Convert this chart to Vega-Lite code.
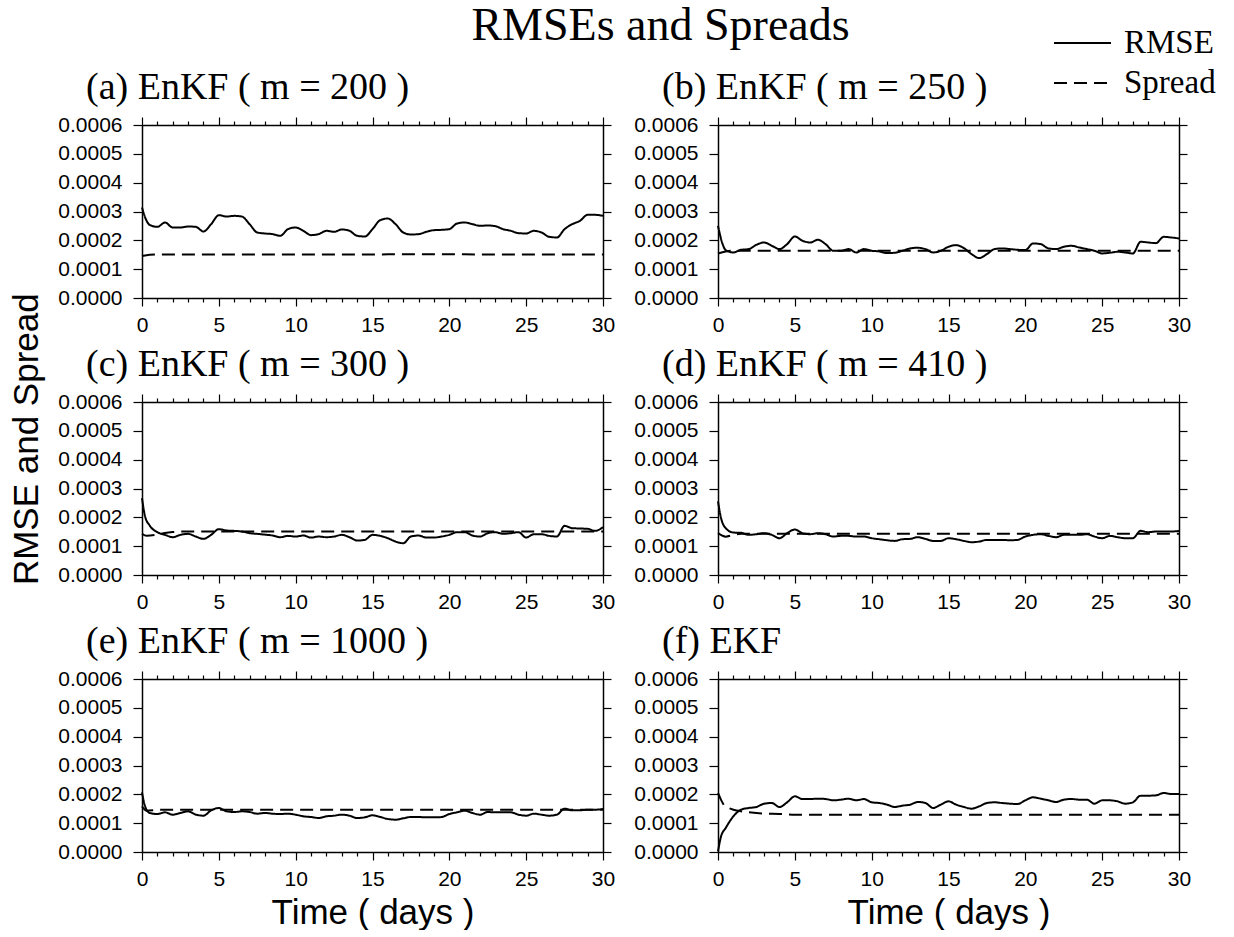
{
"$schema": "https://vega.github.io/schema/vega-lite/v6.json",
"padding": {"left": 9, "top": 3, "right": 0, "bottom": 0},
"background": "white",
"bounds": "flush",
"spacing": {"row": 104, "column": 115},
"columns": 2,
"title": {"text": "RMSEs and Spreads", "font": "Liberation Serif", "fontSize": 46, "fontWeight": "normal", "color": "black", "anchor": "middle", "frame": "group", "baseline": "alphabetic", "offset": 10, "dx": 518.5, "dy": 72},
"datasets": {
"a": [
{"t":0,"v":0.0003137,"s":"RMSE"},{"t":0.3,"v":0.0002676,"s":"RMSE"},{"t":0.5,"v":0.0002537,"s":"RMSE"},{"t":1,"v":0.0002468,"s":"RMSE"},{"t":1.5,"v":0.0002618,"s":"RMSE"},{"t":2,"v":0.0002445,"s":"RMSE"},{"t":2.5,"v":0.0002445,"s":"RMSE"},{"t":3,"v":0.000248,"s":"RMSE"},{"t":3.5,"v":0.0002468,"s":"RMSE"},{"t":4,"v":0.0002307,"s":"RMSE"},{"t":4.5,"v":0.0002561,"s":"RMSE"},{"t":5,"v":0.0002872,"s":"RMSE"},{"t":5.5,"v":0.0002826,"s":"RMSE"},{"t":6,"v":0.0002849,"s":"RMSE"},{"t":6.5,"v":0.0002826,"s":"RMSE"},{"t":7,"v":0.0002561,"s":"RMSE"},{"t":7.5,"v":0.0002272,"s":"RMSE"},{"t":8,"v":0.0002238,"s":"RMSE"},{"t":8.5,"v":0.0002215,"s":"RMSE"},{"t":9,"v":0.0002157,"s":"RMSE"},{"t":9.5,"v":0.0002388,"s":"RMSE"},{"t":10,"v":0.0002445,"s":"RMSE"},{"t":10.5,"v":0.000233,"s":"RMSE"},{"t":11,"v":0.000218,"s":"RMSE"},{"t":11.5,"v":0.0002215,"s":"RMSE"},{"t":12,"v":0.000233,"s":"RMSE"},{"t":12.5,"v":0.0002295,"s":"RMSE"},{"t":13,"v":0.0002376,"s":"RMSE"},{"t":13.5,"v":0.000233,"s":"RMSE"},{"t":14,"v":0.0002157,"s":"RMSE"},{"t":14.5,"v":0.0002134,"s":"RMSE"},{"t":15,"v":0.0002388,"s":"RMSE"},{"t":15.5,"v":0.0002699,"s":"RMSE"},{"t":16,"v":0.0002757,"s":"RMSE"},{"t":16.5,"v":0.0002561,"s":"RMSE"},{"t":17,"v":0.0002272,"s":"RMSE"},{"t":17.5,"v":0.0002203,"s":"RMSE"},{"t":18,"v":0.0002215,"s":"RMSE"},{"t":18.5,"v":0.0002295,"s":"RMSE"},{"t":19,"v":0.0002353,"s":"RMSE"},{"t":19.5,"v":0.0002364,"s":"RMSE"},{"t":20,"v":0.0002388,"s":"RMSE"},{"t":20.5,"v":0.0002584,"s":"RMSE"},{"t":21,"v":0.0002618,"s":"RMSE"},{"t":21.5,"v":0.0002561,"s":"RMSE"},{"t":22,"v":0.0002503,"s":"RMSE"},{"t":22.5,"v":0.0002514,"s":"RMSE"},{"t":23,"v":0.0002491,"s":"RMSE"},{"t":23.5,"v":0.0002388,"s":"RMSE"},{"t":24,"v":0.000233,"s":"RMSE"},{"t":24.5,"v":0.0002249,"s":"RMSE"},{"t":25,"v":0.0002238,"s":"RMSE"},{"t":25.5,"v":0.000233,"s":"RMSE"},{"t":26,"v":0.0002272,"s":"RMSE"},{"t":26.5,"v":0.0002122,"s":"RMSE"},{"t":27,"v":0.0002099,"s":"RMSE"},{"t":27.5,"v":0.0002388,"s":"RMSE"},{"t":28,"v":0.0002561,"s":"RMSE"},{"t":28.5,"v":0.0002676,"s":"RMSE"},{"t":29,"v":0.0002884,"s":"RMSE"},{"t":29.5,"v":0.0002884,"s":"RMSE"},{"t":30,"v":0.0002849,"s":"RMSE"},
{"t":0,"v":0.000146,"s":"Spread"},{"t":0.5,"v":0.00015,"s":"Spread"},{"t":1,"v":0.000151,"s":"Spread"},{"t":5,"v":0.000151,"s":"Spread"},{"t":10,"v":0.000151,"s":"Spread"},{"t":15,"v":0.000151,"s":"Spread"},{"t":17,"v":0.000152,"s":"Spread"},{"t":20,"v":0.000152,"s":"Spread"},{"t":22,"v":0.000151,"s":"Spread"},{"t":25,"v":0.000151,"s":"Spread"},{"t":30,"v":0.000151,"s":"Spread"}
],
"b": [
{"t":0,"v":0.0002503,"s":"RMSE"},{"t":0.3,"v":0.0001869,"s":"RMSE"},{"t":0.5,"v":0.0001661,"s":"RMSE"},{"t":1,"v":0.000158,"s":"RMSE"},{"t":1.5,"v":0.0001672,"s":"RMSE"},{"t":2,"v":0.0001696,"s":"RMSE"},{"t":2.5,"v":0.0001845,"s":"RMSE"},{"t":3,"v":0.0001926,"s":"RMSE"},{"t":3.5,"v":0.0001811,"s":"RMSE"},{"t":4,"v":0.0001696,"s":"RMSE"},{"t":4.5,"v":0.0001869,"s":"RMSE"},{"t":5,"v":0.0002134,"s":"RMSE"},{"t":5.5,"v":0.0001984,"s":"RMSE"},{"t":6,"v":0.0001926,"s":"RMSE"},{"t":6.5,"v":0.0002018,"s":"RMSE"},{"t":7,"v":0.0001869,"s":"RMSE"},{"t":7.5,"v":0.0001638,"s":"RMSE"},{"t":8,"v":0.0001638,"s":"RMSE"},{"t":8.5,"v":0.0001696,"s":"RMSE"},{"t":9,"v":0.000158,"s":"RMSE"},{"t":9.5,"v":0.0001696,"s":"RMSE"},{"t":10,"v":0.0001638,"s":"RMSE"},{"t":10.5,"v":0.0001615,"s":"RMSE"},{"t":11,"v":0.0001557,"s":"RMSE"},{"t":11.5,"v":0.0001569,"s":"RMSE"},{"t":12,"v":0.0001638,"s":"RMSE"},{"t":12.5,"v":0.0001719,"s":"RMSE"},{"t":13,"v":0.0001742,"s":"RMSE"},{"t":13.5,"v":0.0001696,"s":"RMSE"},{"t":14,"v":0.000158,"s":"RMSE"},{"t":14.5,"v":0.0001638,"s":"RMSE"},{"t":15,"v":0.0001776,"s":"RMSE"},{"t":15.5,"v":0.0001834,"s":"RMSE"},{"t":16,"v":0.000173,"s":"RMSE"},{"t":16.5,"v":0.0001522,"s":"RMSE"},{"t":17,"v":0.0001384,"s":"RMSE"},{"t":17.5,"v":0.0001522,"s":"RMSE"},{"t":18,"v":0.0001696,"s":"RMSE"},{"t":18.5,"v":0.0001719,"s":"RMSE"},{"t":19,"v":0.0001696,"s":"RMSE"},{"t":19.5,"v":0.0001672,"s":"RMSE"},{"t":20,"v":0.0001661,"s":"RMSE"},{"t":20.5,"v":0.0001892,"s":"RMSE"},{"t":21,"v":0.0001869,"s":"RMSE"},{"t":21.5,"v":0.0001719,"s":"RMSE"},{"t":22,"v":0.0001696,"s":"RMSE"},{"t":22.5,"v":0.0001776,"s":"RMSE"},{"t":23,"v":0.0001811,"s":"RMSE"},{"t":23.5,"v":0.0001753,"s":"RMSE"},{"t":24,"v":0.0001696,"s":"RMSE"},{"t":24.5,"v":0.0001638,"s":"RMSE"},{"t":25,"v":0.0001546,"s":"RMSE"},{"t":25.5,"v":0.0001569,"s":"RMSE"},{"t":26,"v":0.0001603,"s":"RMSE"},{"t":26.5,"v":0.000158,"s":"RMSE"},{"t":27,"v":0.0001546,"s":"RMSE"},{"t":27.5,"v":0.0001949,"s":"RMSE"},{"t":28,"v":0.0001926,"s":"RMSE"},{"t":28.5,"v":0.0001903,"s":"RMSE"},{"t":29,"v":0.0002122,"s":"RMSE"},{"t":29.5,"v":0.0002099,"s":"RMSE"},{"t":30,"v":0.0002065,"s":"RMSE"},
{"t":0,"v":0.0001546,"s":"Spread"},{"t":0.5,"v":0.0001615,"s":"Spread"},{"t":1,"v":0.0001638,"s":"Spread"},{"t":5,"v":0.0001638,"s":"Spread"},{"t":10,"v":0.0001638,"s":"Spread"},{"t":15,"v":0.0001638,"s":"Spread"},{"t":20,"v":0.0001638,"s":"Spread"},{"t":25,"v":0.0001638,"s":"Spread"},{"t":30,"v":0.0001638,"s":"Spread"}
],
"c": [
{"t":0,"v":0.0002668,"s":"RMSE"},{"t":0.2,"v":0.000203,"s":"RMSE"},{"t":0.5,"v":0.0001717,"s":"RMSE"},{"t":1,"v":0.0001485,"s":"RMSE"},{"t":1.5,"v":0.0001392,"s":"RMSE"},{"t":2,"v":0.0001311,"s":"RMSE"},{"t":2.5,"v":0.0001392,"s":"RMSE"},{"t":3,"v":0.0001427,"s":"RMSE"},{"t":3.5,"v":0.0001334,"s":"RMSE"},{"t":4,"v":0.0001253,"s":"RMSE"},{"t":4.5,"v":0.0001392,"s":"RMSE"},{"t":5,"v":0.0001589,"s":"RMSE"},{"t":5.5,"v":0.0001543,"s":"RMSE"},{"t":6,"v":0.000153,"s":"RMSE"},{"t":6.5,"v":0.0001508,"s":"RMSE"},{"t":7,"v":0.000145,"s":"RMSE"},{"t":7.5,"v":0.0001427,"s":"RMSE"},{"t":8,"v":0.00014,"s":"RMSE"},{"t":8.5,"v":0.0001369,"s":"RMSE"},{"t":9,"v":0.0001311,"s":"RMSE"},{"t":9.5,"v":0.0001357,"s":"RMSE"},{"t":10,"v":0.0001334,"s":"RMSE"},{"t":10.5,"v":0.0001369,"s":"RMSE"},{"t":11,"v":0.0001299,"s":"RMSE"},{"t":11.5,"v":0.0001334,"s":"RMSE"},{"t":12,"v":0.0001311,"s":"RMSE"},{"t":12.5,"v":0.0001334,"s":"RMSE"},{"t":13,"v":0.0001392,"s":"RMSE"},{"t":13.5,"v":0.0001311,"s":"RMSE"},{"t":14,"v":0.0001195,"s":"RMSE"},{"t":14.5,"v":0.0001218,"s":"RMSE"},{"t":15,"v":0.0001392,"s":"RMSE"},{"t":15.5,"v":0.0001357,"s":"RMSE"},{"t":16,"v":0.0001276,"s":"RMSE"},{"t":16.5,"v":0.000116,"s":"RMSE"},{"t":17,"v":0.0001102,"s":"RMSE"},{"t":17.5,"v":0.0001334,"s":"RMSE"},{"t":18,"v":0.0001369,"s":"RMSE"},{"t":18.5,"v":0.0001299,"s":"RMSE"},{"t":19,"v":0.0001299,"s":"RMSE"},{"t":19.5,"v":0.0001334,"s":"RMSE"},{"t":20,"v":0.0001392,"s":"RMSE"},{"t":20.5,"v":0.0001485,"s":"RMSE"},{"t":21,"v":0.0001485,"s":"RMSE"},{"t":21.5,"v":0.0001369,"s":"RMSE"},{"t":22,"v":0.0001334,"s":"RMSE"},{"t":22.5,"v":0.000145,"s":"RMSE"},{"t":23,"v":0.0001485,"s":"RMSE"},{"t":23.5,"v":0.0001427,"s":"RMSE"},{"t":24,"v":0.000145,"s":"RMSE"},{"t":24.5,"v":0.0001485,"s":"RMSE"},{"t":25,"v":0.0001299,"s":"RMSE"},{"t":25.5,"v":0.0001415,"s":"RMSE"},{"t":26,"v":0.0001415,"s":"RMSE"},{"t":26.5,"v":0.0001357,"s":"RMSE"},{"t":27,"v":0.0001334,"s":"RMSE"},{"t":27.5,"v":0.0001705,"s":"RMSE"},{"t":28,"v":0.0001624,"s":"RMSE"},{"t":28.5,"v":0.0001613,"s":"RMSE"},{"t":29,"v":0.0001601,"s":"RMSE"},{"t":29.5,"v":0.0001531,"s":"RMSE"},{"t":30,"v":0.0001659,"s":"RMSE"},
{"t":0,"v":0.000143,"s":"Spread"},{"t":0.3,"v":0.000136,"s":"Spread"},{"t":1,"v":0.00014,"s":"Spread"},{"t":1.5,"v":0.000146,"s":"Spread"},{"t":2,"v":0.000149,"s":"Spread"},{"t":3,"v":0.000151,"s":"Spread"},{"t":10,"v":0.000151,"s":"Spread"},{"t":20,"v":0.000151,"s":"Spread"},{"t":30,"v":0.000151,"s":"Spread"}
],
"d": [
{"t":0,"v":0.0002552,"s":"RMSE"},{"t":0.2,"v":0.0001972,"s":"RMSE"},{"t":0.5,"v":0.0001624,"s":"RMSE"},{"t":1,"v":0.0001473,"s":"RMSE"},{"t":1.5,"v":0.0001462,"s":"RMSE"},{"t":2,"v":0.0001392,"s":"RMSE"},{"t":2.5,"v":0.0001415,"s":"RMSE"},{"t":3,"v":0.000145,"s":"RMSE"},{"t":3.5,"v":0.0001392,"s":"RMSE"},{"t":4,"v":0.0001276,"s":"RMSE"},{"t":4.5,"v":0.000145,"s":"RMSE"},{"t":5,"v":0.0001578,"s":"RMSE"},{"t":5.5,"v":0.000145,"s":"RMSE"},{"t":6,"v":0.0001415,"s":"RMSE"},{"t":6.5,"v":0.000145,"s":"RMSE"},{"t":7,"v":0.0001415,"s":"RMSE"},{"t":7.5,"v":0.0001334,"s":"RMSE"},{"t":8,"v":0.0001357,"s":"RMSE"},{"t":8.5,"v":0.0001357,"s":"RMSE"},{"t":9,"v":0.0001334,"s":"RMSE"},{"t":9.5,"v":0.0001334,"s":"RMSE"},{"t":10,"v":0.0001276,"s":"RMSE"},{"t":10.5,"v":0.0001241,"s":"RMSE"},{"t":11,"v":0.0001206,"s":"RMSE"},{"t":11.5,"v":0.0001183,"s":"RMSE"},{"t":12,"v":0.0001241,"s":"RMSE"},{"t":12.5,"v":0.0001253,"s":"RMSE"},{"t":13,"v":0.0001311,"s":"RMSE"},{"t":13.5,"v":0.0001253,"s":"RMSE"},{"t":14,"v":0.0001183,"s":"RMSE"},{"t":14.5,"v":0.0001183,"s":"RMSE"},{"t":15,"v":0.0001276,"s":"RMSE"},{"t":15.5,"v":0.0001241,"s":"RMSE"},{"t":16,"v":0.0001183,"s":"RMSE"},{"t":16.5,"v":0.0001137,"s":"RMSE"},{"t":17,"v":0.000116,"s":"RMSE"},{"t":17.5,"v":0.0001218,"s":"RMSE"},{"t":18,"v":0.0001218,"s":"RMSE"},{"t":18.5,"v":0.0001218,"s":"RMSE"},{"t":19,"v":0.0001206,"s":"RMSE"},{"t":19.5,"v":0.0001218,"s":"RMSE"},{"t":20,"v":0.0001334,"s":"RMSE"},{"t":20.5,"v":0.0001392,"s":"RMSE"},{"t":21,"v":0.0001415,"s":"RMSE"},{"t":21.5,"v":0.0001357,"s":"RMSE"},{"t":22,"v":0.0001311,"s":"RMSE"},{"t":22.5,"v":0.0001392,"s":"RMSE"},{"t":23,"v":0.0001392,"s":"RMSE"},{"t":23.5,"v":0.0001392,"s":"RMSE"},{"t":24,"v":0.0001415,"s":"RMSE"},{"t":24.5,"v":0.0001334,"s":"RMSE"},{"t":25,"v":0.0001276,"s":"RMSE"},{"t":25.5,"v":0.0001357,"s":"RMSE"},{"t":26,"v":0.0001311,"s":"RMSE"},{"t":26.5,"v":0.0001276,"s":"RMSE"},{"t":27,"v":0.0001276,"s":"RMSE"},{"t":27.5,"v":0.0001531,"s":"RMSE"},{"t":28,"v":0.0001485,"s":"RMSE"},{"t":28.5,"v":0.0001508,"s":"RMSE"},{"t":29,"v":0.0001508,"s":"RMSE"},{"t":29.5,"v":0.0001508,"s":"RMSE"},{"t":30,"v":0.0001531,"s":"RMSE"},
{"t":0,"v":0.000145,"s":"Spread"},{"t":0.5,"v":0.000133,"s":"Spread"},{"t":1,"v":0.000139,"s":"Spread"},{"t":1.5,"v":0.000143,"s":"Spread"},{"t":5,"v":0.000143,"s":"Spread"},{"t":10,"v":0.000143,"s":"Spread"},{"t":20,"v":0.000143,"s":"Spread"},{"t":30,"v":0.000143,"s":"Spread"}
],
"e": [
{"t":0,"v":0.0002069,"s":"RMSE"},{"t":0.2,"v":0.0001584,"s":"RMSE"},{"t":0.5,"v":0.0001353,"s":"RMSE"},{"t":1,"v":0.0001318,"s":"RMSE"},{"t":1.5,"v":0.0001376,"s":"RMSE"},{"t":2,"v":0.0001295,"s":"RMSE"},{"t":2.5,"v":0.0001353,"s":"RMSE"},{"t":3,"v":0.000141,"s":"RMSE"},{"t":3.5,"v":0.0001295,"s":"RMSE"},{"t":4,"v":0.000126,"s":"RMSE"},{"t":4.5,"v":0.0001445,"s":"RMSE"},{"t":5,"v":0.0001526,"s":"RMSE"},{"t":5.5,"v":0.000141,"s":"RMSE"},{"t":6,"v":0.0001387,"s":"RMSE"},{"t":6.5,"v":0.000141,"s":"RMSE"},{"t":7,"v":0.0001387,"s":"RMSE"},{"t":7.5,"v":0.0001329,"s":"RMSE"},{"t":8,"v":0.0001353,"s":"RMSE"},{"t":8.5,"v":0.0001329,"s":"RMSE"},{"t":9,"v":0.0001318,"s":"RMSE"},{"t":9.5,"v":0.0001329,"s":"RMSE"},{"t":10,"v":0.0001295,"s":"RMSE"},{"t":10.5,"v":0.0001237,"s":"RMSE"},{"t":11,"v":0.0001214,"s":"RMSE"},{"t":11.5,"v":0.0001179,"s":"RMSE"},{"t":12,"v":0.0001237,"s":"RMSE"},{"t":12.5,"v":0.000126,"s":"RMSE"},{"t":13,"v":0.0001295,"s":"RMSE"},{"t":13.5,"v":0.000126,"s":"RMSE"},{"t":14,"v":0.0001179,"s":"RMSE"},{"t":14.5,"v":0.0001202,"s":"RMSE"},{"t":15,"v":0.0001272,"s":"RMSE"},{"t":15.5,"v":0.0001214,"s":"RMSE"},{"t":16,"v":0.0001145,"s":"RMSE"},{"t":16.5,"v":0.0001121,"s":"RMSE"},{"t":17,"v":0.0001168,"s":"RMSE"},{"t":17.5,"v":0.0001214,"s":"RMSE"},{"t":18,"v":0.0001214,"s":"RMSE"},{"t":18.5,"v":0.0001202,"s":"RMSE"},{"t":19,"v":0.0001202,"s":"RMSE"},{"t":19.5,"v":0.0001214,"s":"RMSE"},{"t":20,"v":0.0001318,"s":"RMSE"},{"t":20.5,"v":0.0001376,"s":"RMSE"},{"t":21,"v":0.0001434,"s":"RMSE"},{"t":21.5,"v":0.0001353,"s":"RMSE"},{"t":22,"v":0.0001295,"s":"RMSE"},{"t":22.5,"v":0.0001387,"s":"RMSE"},{"t":23,"v":0.0001376,"s":"RMSE"},{"t":23.5,"v":0.0001376,"s":"RMSE"},{"t":24,"v":0.0001376,"s":"RMSE"},{"t":24.5,"v":0.0001295,"s":"RMSE"},{"t":25,"v":0.000126,"s":"RMSE"},{"t":25.5,"v":0.0001329,"s":"RMSE"},{"t":26,"v":0.0001295,"s":"RMSE"},{"t":26.5,"v":0.000126,"s":"RMSE"},{"t":27,"v":0.0001295,"s":"RMSE"},{"t":27.5,"v":0.0001503,"s":"RMSE"},{"t":28,"v":0.0001445,"s":"RMSE"},{"t":28.5,"v":0.0001445,"s":"RMSE"},{"t":29,"v":0.0001468,"s":"RMSE"},{"t":29.5,"v":0.0001468,"s":"RMSE"},{"t":30,"v":0.0001491,"s":"RMSE"},
{"t":0,"v":0.000158,"s":"Spread"},{"t":0.3,"v":0.000143,"s":"Spread"},{"t":1,"v":0.000146,"s":"Spread"},{"t":2,"v":0.0001468,"s":"Spread"},{"t":10,"v":0.0001468,"s":"Spread"},{"t":20,"v":0.0001468,"s":"Spread"},{"t":30,"v":0.0001468,"s":"Spread"}
],
"f": [
{"t":0,"v":0.0000023,"s":"RMSE"},{"t":0.2,"v":0.0000543,"s":"RMSE"},{"t":0.5,"v":0.0000832,"s":"RMSE"},{"t":1,"v":0.0001237,"s":"RMSE"},{"t":1.5,"v":0.0001468,"s":"RMSE"},{"t":2,"v":0.0001526,"s":"RMSE"},{"t":2.5,"v":0.0001561,"s":"RMSE"},{"t":3,"v":0.0001676,"s":"RMSE"},{"t":3.5,"v":0.0001699,"s":"RMSE"},{"t":4,"v":0.0001561,"s":"RMSE"},{"t":4.5,"v":0.0001723,"s":"RMSE"},{"t":5,"v":0.0001931,"s":"RMSE"},{"t":5.5,"v":0.0001838,"s":"RMSE"},{"t":6,"v":0.0001838,"s":"RMSE"},{"t":6.5,"v":0.000185,"s":"RMSE"},{"t":7,"v":0.0001838,"s":"RMSE"},{"t":7.5,"v":0.0001792,"s":"RMSE"},{"t":8,"v":0.0001815,"s":"RMSE"},{"t":8.5,"v":0.000185,"s":"RMSE"},{"t":9,"v":0.0001792,"s":"RMSE"},{"t":9.5,"v":0.0001838,"s":"RMSE"},{"t":10,"v":0.0001723,"s":"RMSE"},{"t":10.5,"v":0.0001699,"s":"RMSE"},{"t":11,"v":0.0001642,"s":"RMSE"},{"t":11.5,"v":0.0001561,"s":"RMSE"},{"t":12,"v":0.0001607,"s":"RMSE"},{"t":12.5,"v":0.0001642,"s":"RMSE"},{"t":13,"v":0.0001734,"s":"RMSE"},{"t":13.5,"v":0.0001699,"s":"RMSE"},{"t":14,"v":0.0001526,"s":"RMSE"},{"t":14.5,"v":0.0001642,"s":"RMSE"},{"t":15,"v":0.0001757,"s":"RMSE"},{"t":15.5,"v":0.0001642,"s":"RMSE"},{"t":16,"v":0.0001561,"s":"RMSE"},{"t":16.5,"v":0.0001503,"s":"RMSE"},{"t":17,"v":0.0001584,"s":"RMSE"},{"t":17.5,"v":0.0001699,"s":"RMSE"},{"t":18,"v":0.0001723,"s":"RMSE"},{"t":18.5,"v":0.0001699,"s":"RMSE"},{"t":19,"v":0.0001676,"s":"RMSE"},{"t":19.5,"v":0.0001665,"s":"RMSE"},{"t":20,"v":0.0001792,"s":"RMSE"},{"t":20.5,"v":0.0001896,"s":"RMSE"},{"t":21,"v":0.000185,"s":"RMSE"},{"t":21.5,"v":0.0001792,"s":"RMSE"},{"t":22,"v":0.0001734,"s":"RMSE"},{"t":22.5,"v":0.0001815,"s":"RMSE"},{"t":23,"v":0.0001838,"s":"RMSE"},{"t":23.5,"v":0.0001815,"s":"RMSE"},{"t":24,"v":0.0001815,"s":"RMSE"},{"t":24.5,"v":0.0001676,"s":"RMSE"},{"t":25,"v":0.0001792,"s":"RMSE"},{"t":25.5,"v":0.0001792,"s":"RMSE"},{"t":26,"v":0.0001757,"s":"RMSE"},{"t":26.5,"v":0.0001676,"s":"RMSE"},{"t":27,"v":0.0001723,"s":"RMSE"},{"t":27.5,"v":0.0001954,"s":"RMSE"},{"t":28,"v":0.0001954,"s":"RMSE"},{"t":28.5,"v":0.0001965,"s":"RMSE"},{"t":29,"v":0.0002046,"s":"RMSE"},{"t":29.5,"v":0.0002012,"s":"RMSE"},{"t":30,"v":0.0002012,"s":"RMSE"},
{"t":0,"v":0.0002046,"s":"Spread"},{"t":0.2,"v":0.0001809,"s":"Spread"},{"t":0.4,"v":0.0001618,"s":"Spread"},{"t":0.7,"v":0.0001526,"s":"Spread"},{"t":1,"v":0.0001468,"s":"Spread"},{"t":1.5,"v":0.000141,"s":"Spread"},{"t":2,"v":0.0001376,"s":"Spread"},{"t":3,"v":0.0001329,"s":"Spread"},{"t":4,"v":0.0001318,"s":"Spread"},{"t":5,"v":0.0001295,"s":"Spread"},{"t":10,"v":0.0001295,"s":"Spread"},{"t":20,"v":0.0001295,"s":"Spread"},{"t":30,"v":0.0001295,"s":"Spread"}
]
},
"concat": [
{"width": 461, "height": 173, "data": {"name": "a"},
 "title": {"text": "(a) EnKF ( m = 200 )"},
 "resolve": {"axis": {"x": "independent", "y": "independent"}},
 "layer": [
  {"mark": {"type": "line", "interpolate": "monotone", "color": "black", "strokeWidth": 2},
   "encoding": {
    "x": {"field": "t", "type": "quantitative", "scale": {"domain": [0, 30], "nice": false, "zero": false}, "axis": {"orient": "bottom", "values": [0,5,10,15,20,25,30], "format": "d", "title": null}},
    "y": {"field": "v", "type": "quantitative", "scale": {"domain": [0, 0.0006], "nice": false}, "axis": {"orient": "left", "values": [0,0.0001,0.0002,0.0003,0.0004,0.0005,0.0006], "format": ".4f", "title": "RMSE and Spread", "titleX": -105, "titleY": 313.7, "titleBaseline": "alphabetic", "titleAlign": "center", "titleAngle": 270}},
    "strokeDash": {"field": "s", "type": "nominal", "scale": {"domain": ["RMSE", "Spread"], "range": [[1, 0], [13, 7]]}, "title": null}}},
  {"mark": {"type": "point", "opacity": 0},
   "encoding": {
    "x": {"field": "t", "type": "quantitative", "axis": {"orient": "top", "values": [0,5,10,15,20,25,30], "labels": false, "title": null}},
    "y": {"field": "v", "type": "quantitative", "axis": {"orient": "right", "values": [0,0.0001,0.0002,0.0003,0.0004,0.0005,0.0006], "labels": false, "title": null}}}},
  {"mark": {"type": "point", "opacity": 0},
   "encoding": {
    "x": {"field": "t", "type": "quantitative", "axis": {"orient": "bottom", "values": [1,2,3,4,6,7,8,9,11,12,13,14,16,17,18,19,21,22,23,24,26,27,28,29], "labels": false, "domain": false, "tickSize": 4, "title": null}},
    "y": {"field": "v", "type": "quantitative", "axis": null}}},
  {"mark": {"type": "point", "opacity": 0},
   "encoding": {
    "x": {"field": "t", "type": "quantitative", "axis": {"orient": "top", "values": [1,2,3,4,6,7,8,9,11,12,13,14,16,17,18,19,21,22,23,24,26,27,28,29], "labels": false, "domain": false, "tickSize": 4, "title": null}},
    "y": {"field": "v", "type": "quantitative", "axis": null}}}
 ]},
{"width": 461, "height": 173, "data": {"name": "b"},
 "title": {"text": "(b) EnKF ( m = 250 )"},
 "resolve": {"axis": {"x": "independent", "y": "independent"}},
 "layer": [
  {"mark": {"type": "line", "interpolate": "monotone", "color": "black", "strokeWidth": 2},
   "encoding": {
    "x": {"field": "t", "type": "quantitative", "scale": {"domain": [0, 30], "nice": false, "zero": false}, "axis": {"orient": "bottom", "values": [0,5,10,15,20,25,30], "format": "d", "title": null}},
    "y": {"field": "v", "type": "quantitative", "scale": {"domain": [0, 0.0006], "nice": false}, "axis": {"orient": "left", "values": [0,0.0001,0.0002,0.0003,0.0004,0.0005,0.0006], "format": ".4f", "title": null}},
    "strokeDash": {"field": "s", "type": "nominal", "scale": {"domain": ["RMSE", "Spread"], "range": [[1, 0], [13, 7]]}, "title": null}}},
  {"mark": {"type": "point", "opacity": 0},
   "encoding": {
    "x": {"field": "t", "type": "quantitative", "axis": {"orient": "top", "values": [0,5,10,15,20,25,30], "labels": false, "title": null}},
    "y": {"field": "v", "type": "quantitative", "axis": {"orient": "right", "values": [0,0.0001,0.0002,0.0003,0.0004,0.0005,0.0006], "labels": false, "title": null}}}},
  {"mark": {"type": "point", "opacity": 0},
   "encoding": {
    "x": {"field": "t", "type": "quantitative", "axis": {"orient": "bottom", "values": [1,2,3,4,6,7,8,9,11,12,13,14,16,17,18,19,21,22,23,24,26,27,28,29], "labels": false, "domain": false, "tickSize": 4, "title": null}},
    "y": {"field": "v", "type": "quantitative", "axis": null}}},
  {"mark": {"type": "point", "opacity": 0},
   "encoding": {
    "x": {"field": "t", "type": "quantitative", "axis": {"orient": "top", "values": [1,2,3,4,6,7,8,9,11,12,13,14,16,17,18,19,21,22,23,24,26,27,28,29], "labels": false, "domain": false, "tickSize": 4, "title": null}},
    "y": {"field": "v", "type": "quantitative", "axis": null}}}
 ]},
{"width": 461, "height": 173, "data": {"name": "c"},
 "title": {"text": "(c) EnKF ( m = 300 )"},
 "resolve": {"axis": {"x": "independent", "y": "independent"}},
 "layer": [
  {"mark": {"type": "line", "interpolate": "monotone", "color": "black", "strokeWidth": 2},
   "encoding": {
    "x": {"field": "t", "type": "quantitative", "scale": {"domain": [0, 30], "nice": false, "zero": false}, "axis": {"orient": "bottom", "values": [0,5,10,15,20,25,30], "format": "d", "title": null}},
    "y": {"field": "v", "type": "quantitative", "scale": {"domain": [0, 0.0006], "nice": false}, "axis": {"orient": "left", "values": [0,0.0001,0.0002,0.0003,0.0004,0.0005,0.0006], "format": ".4f", "title": null}},
    "strokeDash": {"field": "s", "type": "nominal", "scale": {"domain": ["RMSE", "Spread"], "range": [[1, 0], [13, 7]]}, "title": null}}},
  {"mark": {"type": "point", "opacity": 0},
   "encoding": {
    "x": {"field": "t", "type": "quantitative", "axis": {"orient": "top", "values": [0,5,10,15,20,25,30], "labels": false, "title": null}},
    "y": {"field": "v", "type": "quantitative", "axis": {"orient": "right", "values": [0,0.0001,0.0002,0.0003,0.0004,0.0005,0.0006], "labels": false, "title": null}}}},
  {"mark": {"type": "point", "opacity": 0},
   "encoding": {
    "x": {"field": "t", "type": "quantitative", "axis": {"orient": "bottom", "values": [1,2,3,4,6,7,8,9,11,12,13,14,16,17,18,19,21,22,23,24,26,27,28,29], "labels": false, "domain": false, "tickSize": 4, "title": null}},
    "y": {"field": "v", "type": "quantitative", "axis": null}}},
  {"mark": {"type": "point", "opacity": 0},
   "encoding": {
    "x": {"field": "t", "type": "quantitative", "axis": {"orient": "top", "values": [1,2,3,4,6,7,8,9,11,12,13,14,16,17,18,19,21,22,23,24,26,27,28,29], "labels": false, "domain": false, "tickSize": 4, "title": null}},
    "y": {"field": "v", "type": "quantitative", "axis": null}}}
 ]},
{"width": 461, "height": 173, "data": {"name": "d"},
 "title": {"text": "(d) EnKF ( m = 410 )"},
 "resolve": {"axis": {"x": "independent", "y": "independent"}},
 "layer": [
  {"mark": {"type": "line", "interpolate": "monotone", "color": "black", "strokeWidth": 2},
   "encoding": {
    "x": {"field": "t", "type": "quantitative", "scale": {"domain": [0, 30], "nice": false, "zero": false}, "axis": {"orient": "bottom", "values": [0,5,10,15,20,25,30], "format": "d", "title": null}},
    "y": {"field": "v", "type": "quantitative", "scale": {"domain": [0, 0.0006], "nice": false}, "axis": {"orient": "left", "values": [0,0.0001,0.0002,0.0003,0.0004,0.0005,0.0006], "format": ".4f", "title": null}},
    "strokeDash": {"field": "s", "type": "nominal", "scale": {"domain": ["RMSE", "Spread"], "range": [[1, 0], [13, 7]]}, "title": null}}},
  {"mark": {"type": "point", "opacity": 0},
   "encoding": {
    "x": {"field": "t", "type": "quantitative", "axis": {"orient": "top", "values": [0,5,10,15,20,25,30], "labels": false, "title": null}},
    "y": {"field": "v", "type": "quantitative", "axis": {"orient": "right", "values": [0,0.0001,0.0002,0.0003,0.0004,0.0005,0.0006], "labels": false, "title": null}}}},
  {"mark": {"type": "point", "opacity": 0},
   "encoding": {
    "x": {"field": "t", "type": "quantitative", "axis": {"orient": "bottom", "values": [1,2,3,4,6,7,8,9,11,12,13,14,16,17,18,19,21,22,23,24,26,27,28,29], "labels": false, "domain": false, "tickSize": 4, "title": null}},
    "y": {"field": "v", "type": "quantitative", "axis": null}}},
  {"mark": {"type": "point", "opacity": 0},
   "encoding": {
    "x": {"field": "t", "type": "quantitative", "axis": {"orient": "top", "values": [1,2,3,4,6,7,8,9,11,12,13,14,16,17,18,19,21,22,23,24,26,27,28,29], "labels": false, "domain": false, "tickSize": 4, "title": null}},
    "y": {"field": "v", "type": "quantitative", "axis": null}}}
 ]},
{"width": 461, "height": 173, "data": {"name": "e"},
 "title": {"text": "(e) EnKF ( m = 1000 )"},
 "resolve": {"axis": {"x": "independent", "y": "independent"}},
 "layer": [
  {"mark": {"type": "line", "interpolate": "monotone", "color": "black", "strokeWidth": 2},
   "encoding": {
    "x": {"field": "t", "type": "quantitative", "scale": {"domain": [0, 30], "nice": false, "zero": false}, "axis": {"orient": "bottom", "values": [0,5,10,15,20,25,30], "format": "d", "title": "Time ( days )", "titleY": 71, "titleBaseline": "alphabetic"}},
    "y": {"field": "v", "type": "quantitative", "scale": {"domain": [0, 0.0006], "nice": false}, "axis": {"orient": "left", "values": [0,0.0001,0.0002,0.0003,0.0004,0.0005,0.0006], "format": ".4f", "title": null}},
    "strokeDash": {"field": "s", "type": "nominal", "scale": {"domain": ["RMSE", "Spread"], "range": [[1, 0], [13, 7]]}, "title": null}}},
  {"mark": {"type": "point", "opacity": 0},
   "encoding": {
    "x": {"field": "t", "type": "quantitative", "axis": {"orient": "top", "values": [0,5,10,15,20,25,30], "labels": false, "title": null}},
    "y": {"field": "v", "type": "quantitative", "axis": {"orient": "right", "values": [0,0.0001,0.0002,0.0003,0.0004,0.0005,0.0006], "labels": false, "title": null}}}},
  {"mark": {"type": "point", "opacity": 0},
   "encoding": {
    "x": {"field": "t", "type": "quantitative", "axis": {"orient": "bottom", "values": [1,2,3,4,6,7,8,9,11,12,13,14,16,17,18,19,21,22,23,24,26,27,28,29], "labels": false, "domain": false, "tickSize": 4, "title": null}},
    "y": {"field": "v", "type": "quantitative", "axis": null}}},
  {"mark": {"type": "point", "opacity": 0},
   "encoding": {
    "x": {"field": "t", "type": "quantitative", "axis": {"orient": "top", "values": [1,2,3,4,6,7,8,9,11,12,13,14,16,17,18,19,21,22,23,24,26,27,28,29], "labels": false, "domain": false, "tickSize": 4, "title": null}},
    "y": {"field": "v", "type": "quantitative", "axis": null}}}
 ]},
{"width": 461, "height": 173, "data": {"name": "f"},
 "title": {"text": "(f) EKF"},
 "resolve": {"axis": {"x": "independent", "y": "independent"}},
 "layer": [
  {"mark": {"type": "line", "interpolate": "monotone", "color": "black", "strokeWidth": 2},
   "encoding": {
    "x": {"field": "t", "type": "quantitative", "scale": {"domain": [0, 30], "nice": false, "zero": false}, "axis": {"orient": "bottom", "values": [0,5,10,15,20,25,30], "format": "d", "title": "Time ( days )", "titleY": 71, "titleBaseline": "alphabetic"}},
    "y": {"field": "v", "type": "quantitative", "scale": {"domain": [0, 0.0006], "nice": false}, "axis": {"orient": "left", "values": [0,0.0001,0.0002,0.0003,0.0004,0.0005,0.0006], "format": ".4f", "title": null}},
    "strokeDash": {"field": "s", "type": "nominal", "scale": {"domain": ["RMSE", "Spread"], "range": [[1, 0], [13, 7]]}, "title": null}}},
  {"mark": {"type": "point", "opacity": 0},
   "encoding": {
    "x": {"field": "t", "type": "quantitative", "axis": {"orient": "top", "values": [0,5,10,15,20,25,30], "labels": false, "title": null}},
    "y": {"field": "v", "type": "quantitative", "axis": {"orient": "right", "values": [0,0.0001,0.0002,0.0003,0.0004,0.0005,0.0006], "labels": false, "title": null}}}},
  {"mark": {"type": "point", "opacity": 0},
   "encoding": {
    "x": {"field": "t", "type": "quantitative", "axis": {"orient": "bottom", "values": [1,2,3,4,6,7,8,9,11,12,13,14,16,17,18,19,21,22,23,24,26,27,28,29], "labels": false, "domain": false, "tickSize": 4, "title": null}},
    "y": {"field": "v", "type": "quantitative", "axis": null}}},
  {"mark": {"type": "point", "opacity": 0},
   "encoding": {
    "x": {"field": "t", "type": "quantitative", "axis": {"orient": "top", "values": [1,2,3,4,6,7,8,9,11,12,13,14,16,17,18,19,21,22,23,24,26,27,28,29], "labels": false, "domain": false, "tickSize": 4, "title": null}},
    "y": {"field": "v", "type": "quantitative", "axis": null}}}
 ]}
],
"config": {
 "view": {"stroke": null},
 "font": "Liberation Sans",
 "title": {"font": "Liberation Serif", "fontSize": 38, "fontWeight": "normal", "color": "black", "anchor": "start", "frame": "group", "dx": -56, "offset": 7, "baseline": "alphabetic"},
 "axis": {"grid": false, "domainColor": "black", "domainWidth": 1.5, "tickColor": "black", "tickWidth": 1.2, "tickSize": 8, "labelColor": "black", "labelFont": "Liberation Sans", "labelFontSize": 21, "labelPadding": 8, "labelFlush": false, "labelOverlap": false, "titleFont": "Liberation Sans", "titleFontSize": 35, "titleFontWeight": "normal", "titleColor": "black"},
 "axisLeft": {"tickSize": 9, "labelPadding": 11},
 "legend": {"orient": "none", "legendX": 911, "legendY": -101, "padding": 0, "clipHeight": 38, "symbolType": "stroke", "symbolSize": 3249, "symbolStrokeWidth": 2, "symbolStrokeColor": "black", "labelFont": "Liberation Serif", "labelFontSize": 33, "labelColor": "black", "labelOffset": 12, "rowPadding": 2}
}
}
